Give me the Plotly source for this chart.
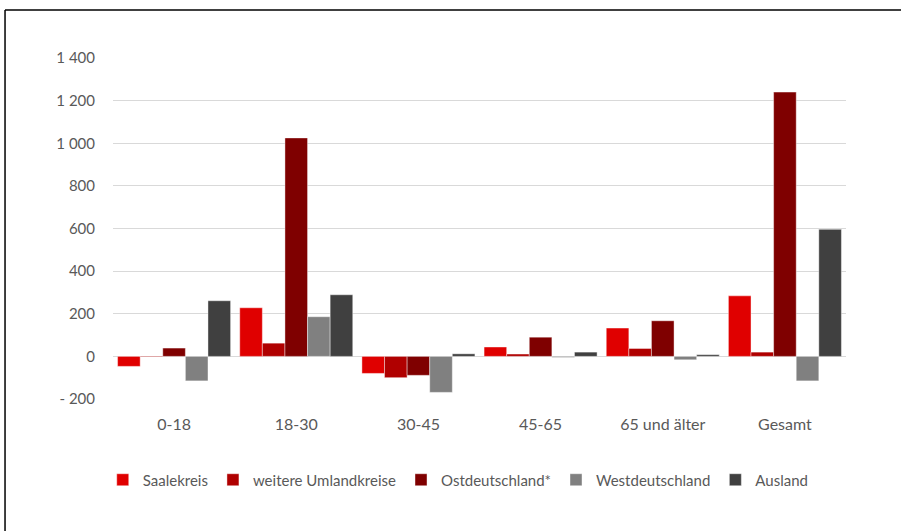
import plotly.graph_objects as go

categories = ["0-18", "18-30", "30-45", "45-65", "65 und älter", "Gesamt"]
series_names = ["Saalekreis", "weitere Umlandkreise", "Ostdeutschland*", "Westdeutschland", "Ausland"]
saalekreis = [-47, 228, -80, 44, 133, 284]
umland = [-3, 62, -100, 11, 37, 20]
ost = [39, 1025, -89, 90, 167, 1240]
west = [-115, 186, -169, -5, -16, -115]
ausland = [261, 289, 12, 20, 8, 596]
tick_vals = [-200, 0, 200, 400, 600, 800, 1000, 1200, 1400]
tick_text = ["- 200", "0", "200", "400", "600", "800", "1 000", "1 200", "1 400"]

colors = ["#E00000", "#B00000", "#7F0000", "#808080", "#404040"]
values = [saalekreis, umland, ost, west, ausland]

FONT = "Lato, 'Open Sans', sans-serif"
fig = go.Figure()
for name, vals, col in zip(series_names, values, colors):
    fig.add_trace(go.Bar(
        x=categories, y=vals, name=name,
        marker=dict(color=col, line=dict(color="rgba(255,255,255,0.55)", width=0.75)),
    ))

fig.update_layout(
    width=901, height=531,
    margin=dict(l=113, r=55, t=58, b=132),
    paper_bgcolor="white", plot_bgcolor="white",
    barmode="group", bargap=0.075, bargroupgap=0,
    font=dict(family=FONT, size=15, color="#595959"),
    showlegend=True,
    legend=dict(orientation="h", x=0.471, xanchor="center", y=-0.2375, yanchor="middle",
                font=dict(family=FONT, size=15, color="#595959"),
                itemwidth=30, traceorder="normal"),
    xaxis=dict(showgrid=False, showline=False, ticks="outside", ticklen=11, tickcolor="rgba(0,0,0,0)",
               tickfont=dict(family=FONT, size=16, color="#595959")),
    yaxis=dict(range=[-200, 1400], tickvals=tick_vals, ticktext=tick_text,
               showgrid=True, gridcolor="#D9D9D9", gridwidth=1,
               zeroline=True, zerolinecolor="#D9D9D9", zerolinewidth=1,
               showline=False, ticks="outside", ticklen=14, tickcolor="rgba(0,0,0,0)",
               tickfont=dict(family=FONT, size=15, color="#595959")),
    shapes=[
        dict(type="line", xref="paper", yref="paper", x0=-0.1473, x1=1.2, y0=1.1408, y1=1.1408,
             line=dict(color="black", width=1.5)),
        dict(type="line", xref="paper", yref="paper", x0=-0.1473, x1=-0.1473, y0=1.1408, y1=-0.5,
             line=dict(color="black", width=1.5)),
    ],
)

fig.write_html("out.html", config={"displayModeBar": False},
               post_script="document.body.style.margin='0';")
